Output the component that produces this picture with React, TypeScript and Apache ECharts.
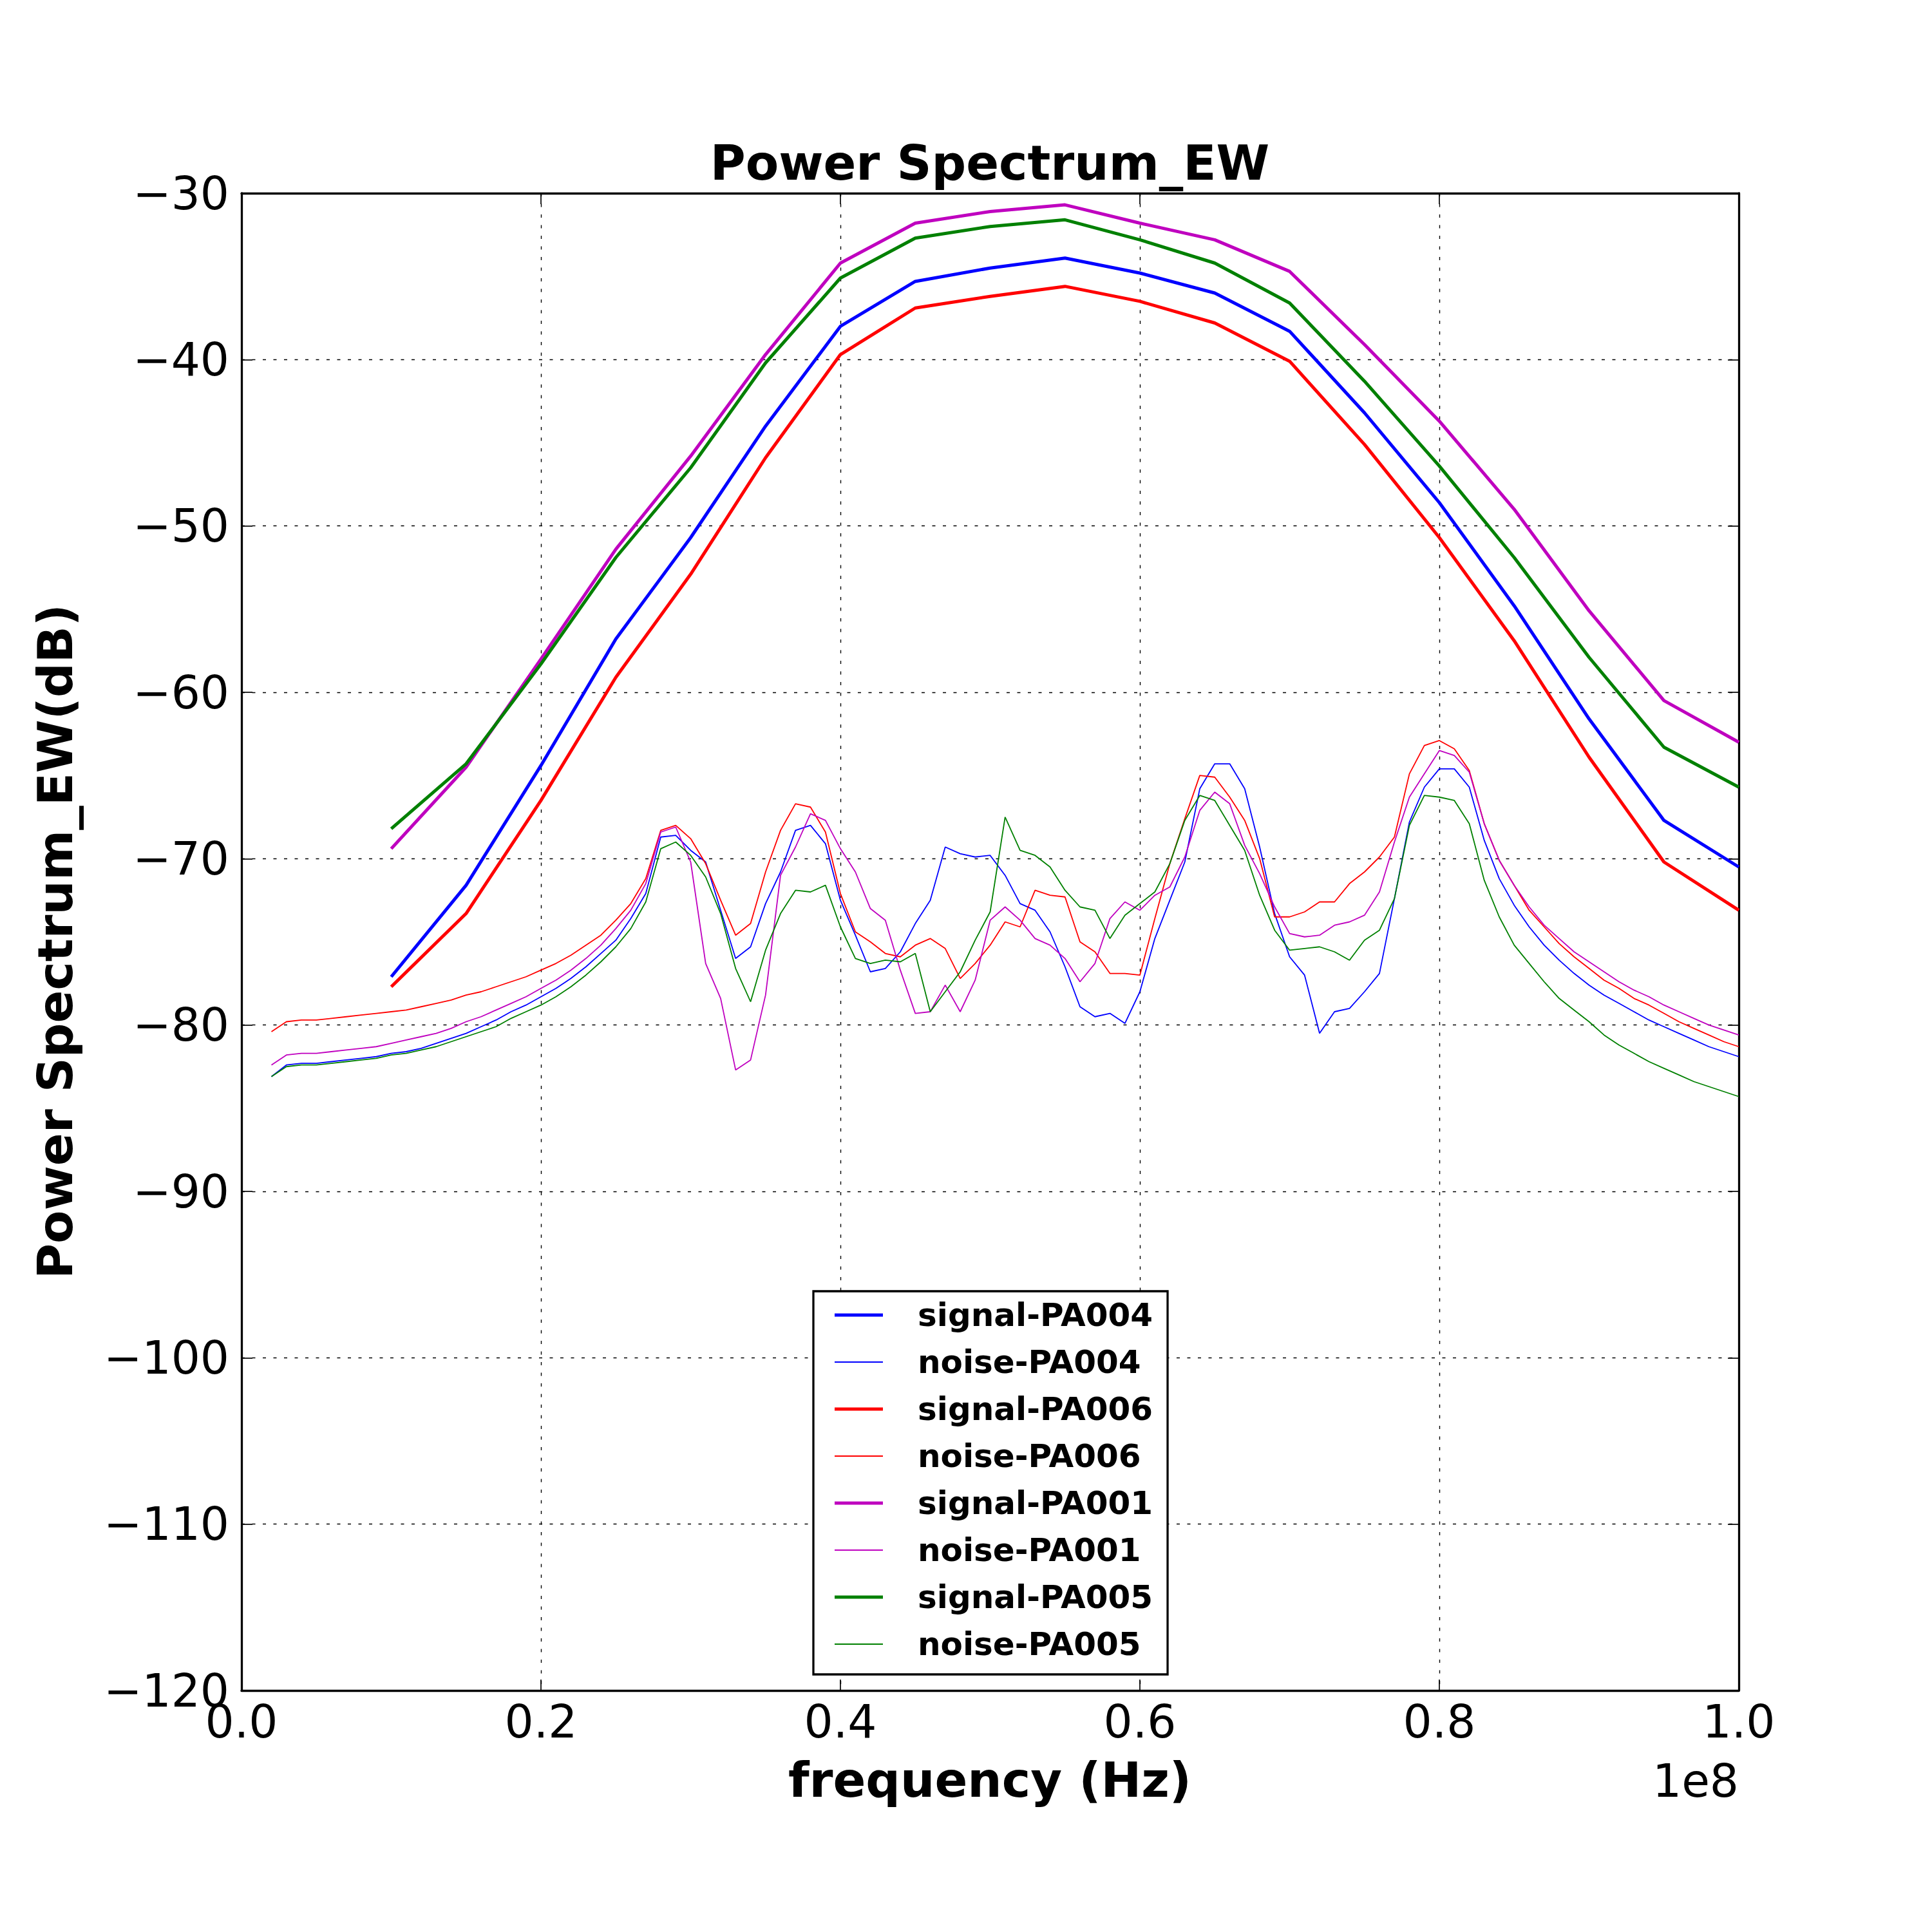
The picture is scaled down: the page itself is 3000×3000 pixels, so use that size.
import React, { useEffect, useRef } from 'react';
import * as echarts from 'echarts';

// frequencies in MHz (axis is in Hz, shown with a 1e8 offset)
const signalFreqMHz = [10, 15, 20, 25, 30, 35, 40, 45, 50, 55, 60, 65, 70, 75, 80, 85, 90, 95, 100];
const noiseFreqMHz = [
  2, 3, 4, 5, 6, 7, 8, 9, 10, 11, 12, 13, 14, 15, 16, 17, 18, 19, 20,
  21, 22, 23, 24, 25, 26, 27, 28, 29, 30, 31, 32, 33, 34, 35, 36, 37, 38, 39, 40,
  41, 42, 43, 44, 45, 46, 47, 48, 49, 50, 51, 52, 53, 54, 55, 56, 57, 58, 59, 60,
  61, 62, 63, 64, 65, 66, 67, 68, 69, 70, 71, 72, 73, 74, 75, 76, 77, 78, 79, 80,
  81, 82, 83, 84, 85, 86, 87, 88, 89, 90, 91, 92, 93, 94, 95, 96, 97, 98, 99, 100,
];

const signalPA004 = [-77.1, -71.6, -64.4, -56.8, -50.7, -44.0, -38.0, -35.3, -34.5, -33.9, -34.8, -36.0, -38.3, -43.2, -48.6, -54.8, -61.6, -67.7, -70.5];
const signalPA006 = [-77.7, -73.3, -66.5, -59.1, -52.9, -45.9, -39.7, -36.9, -36.2, -35.6, -36.5, -37.8, -40.1, -45.1, -50.7, -56.9, -63.9, -70.2, -73.1];
const signalPA001 = [-69.4, -64.5, -58.0, -51.4, -45.8, -39.7, -34.2, -31.8, -31.1, -30.7, -31.8, -32.8, -34.7, -39.1, -43.7, -49.0, -55.1, -60.5, -63.0];
const signalPA005 = [-68.2, -64.3, -58.3, -51.9, -46.5, -40.2, -35.1, -32.7, -32.0, -31.6, -32.8, -34.2, -36.6, -41.3, -46.4, -51.9, -57.9, -63.3, -65.7];

const noisePA004 = [
  -83.1, -82.4, -82.3, -82.3, -82.2, -82.1, -82.0, -81.9, -81.7, -81.6, -81.4, -81.1, -80.8, -80.5, -80.1, -79.7, -79.2, -78.8, -78.3,
  -77.8, -77.2, -76.5, -75.7, -74.9, -73.6, -72.1, -68.7, -68.6, -69.5, -70.2, -73.1, -76.0, -75.3, -72.7, -70.8, -68.3, -68.0, -69.1, -72.5,
  -74.6, -76.8, -76.6, -75.6, -73.9, -72.5, -69.3, -69.7, -69.9, -69.8, -71.0, -72.7, -73.1, -74.4, -76.5, -78.9, -79.5, -79.3, -79.9, -78.0,
  -74.8, -72.5, -70.2, -65.8, -64.3, -64.3, -65.8, -69.3, -73.3, -75.9, -77.0, -80.5, -79.2, -79.0, -78.0, -76.9, -72.4, -67.8, -65.7, -64.6,
  -64.6, -65.7, -68.9, -71.2, -72.8, -74.1, -75.2, -76.1, -76.9, -77.6, -78.2, -78.7, -79.2, -79.7, -80.1, -80.5, -80.9, -81.3, -81.6, -81.9,
];
const noisePA006 = [
  -80.4, -79.8, -79.7, -79.7, -79.6, -79.5, -79.4, -79.3, -79.2, -79.1, -78.9, -78.7, -78.5, -78.2, -78.0, -77.7, -77.4, -77.1, -76.7,
  -76.3, -75.8, -75.2, -74.6, -73.7, -72.7, -71.2, -68.3, -68.0, -68.8, -70.3, -72.5, -74.6, -73.9, -70.8, -68.3, -66.7, -66.9, -68.4, -72.1,
  -74.4, -75.0, -75.7, -75.9, -75.2, -74.8, -75.4, -77.2, -76.3, -75.2, -73.8, -74.1, -71.9, -72.2, -72.3, -75.0, -75.6, -76.9, -76.9, -77.0,
  -73.6, -70.3, -67.6, -65.0, -65.1, -66.3, -67.7, -70.0, -73.5, -73.5, -73.2, -72.6, -72.6, -71.5, -70.8, -69.9, -68.7, -64.9, -63.2, -62.9,
  -63.4, -64.7, -67.9, -70.1, -71.6, -73.1, -74.1, -75.1, -75.9, -76.6, -77.3, -77.8, -78.4, -78.8, -79.3, -79.8, -80.2, -80.6, -81.0, -81.3,
];
const noisePA001 = [
  -82.4, -81.8, -81.7, -81.7, -81.6, -81.5, -81.4, -81.3, -81.1, -80.9, -80.7, -80.5, -80.2, -79.8, -79.5, -79.1, -78.7, -78.3, -77.8,
  -77.3, -76.7, -76.0, -75.2, -74.2, -73.1, -71.5, -68.4, -68.1, -70.2, -76.3, -78.4, -82.7, -82.1, -78.2, -71.0, -69.3, -67.3, -67.7, -69.4,
  -70.8, -73.0, -73.7, -76.7, -79.3, -79.2, -77.6, -79.2, -77.3, -73.7, -72.9, -73.7, -74.8, -75.2, -76.0, -77.4, -76.3, -73.6, -72.6, -73.1,
  -72.2, -71.7, -69.9, -67.1, -66.0, -66.7, -69.2, -70.9, -72.9, -74.5, -74.7, -74.6, -74.0, -73.8, -73.4, -72.0, -69.0, -66.3, -64.9, -63.5,
  -63.8, -64.8, -67.9, -70.1, -71.6, -72.9, -74.0, -74.8, -75.6, -76.2, -76.8, -77.4, -77.9, -78.3, -78.8, -79.2, -79.6, -80.0, -80.3, -80.6,
];
const noisePA005 = [
  -83.1, -82.5, -82.4, -82.4, -82.3, -82.2, -82.1, -82.0, -81.8, -81.7, -81.5, -81.3, -81.0, -80.7, -80.4, -80.1, -79.6, -79.2, -78.8,
  -78.3, -77.7, -77.0, -76.2, -75.3, -74.2, -72.6, -69.4, -69.0, -69.8, -71.1, -73.3, -76.6, -78.6, -75.5, -73.3, -71.9, -72.0, -71.6, -74.1,
  -76.0, -76.3, -76.1, -76.2, -75.7, -79.2, -78.0, -76.8, -74.9, -73.2, -67.5, -69.5, -69.8, -70.5, -71.9, -72.9, -73.1, -74.8, -73.4, -72.7,
  -72.0, -70.3, -67.7, -66.2, -66.5, -68.0, -69.5, -72.2, -74.3, -75.5, -75.4, -75.3, -75.6, -76.1, -74.9, -74.3, -72.4, -68.0, -66.2, -66.3,
  -66.5, -67.9, -71.3, -73.5, -75.2, -76.3, -77.4, -78.4, -79.1, -79.8, -80.6, -81.2, -81.7, -82.2, -82.6, -83.0, -83.4, -83.7, -84.0, -84.3,
];

const seriesNames = [
  'signal-PA004', 'noise-PA004', 'signal-PA006', 'noise-PA006',
  'signal-PA001', 'noise-PA001', 'signal-PA005', 'noise-PA005',
];
const seriesColors = ['#0000ff', '#0000ff', '#ff0000', '#ff0000', '#bf00bf', '#bf00bf', '#008000', '#008000'];
const seriesValues = [signalPA004, noisePA004, signalPA006, noisePA006, signalPA001, noisePA001, signalPA005, noisePA005];

const FONT = '"DejaVu Sans", "Liberation Sans", sans-serif';
const THICK = 5;
const THIN = 1.8;

const fmtY = (v: number) => (v < 0 ? '\u2212' + Math.abs(v) : String(v));
const fmtX = (v: number) => (v / 1e8).toFixed(1);

export default function App() {
  const ref = useRef<HTMLDivElement>(null);

  useEffect(() => {
    if (!ref.current) return;
    const chart = echarts.init(ref.current, null, { renderer: 'svg', width: 3000, height: 3000 });

    const series = seriesNames.map((name, i) => {
      const isSignal = i % 2 === 0;
      const freqs = isSignal ? signalFreqMHz : noiseFreqMHz;
      const vals = seriesValues[i];
      return {
        name,
        type: 'line',
        xAxisIndex: 0,
        yAxisIndex: 0,
        symbol: 'none',
        showSymbol: false,
        clip: true,
        z: 2 + i * 0.01,
        color: seriesColors[i],
        lineStyle: { color: seriesColors[i], width: isSignal ? THICK : THIN },
        emphasis: { disabled: true },
        data: freqs.map((f, k) => [f * 1e6, vals[k]]),
      };
    });

    const axisLine = { show: true, onZero: false, lineStyle: { color: '#000', width: 3.3 } };
    const axisTick = { show: true, inside: true, length: 17, lineStyle: { color: '#000', width: 1.7 } };
    const gridLine = { show: true, lineStyle: { color: '#000', width: 1.4, type: [5, 11.5] } };

    const thickIcon = 'path://M0,0H75V5H0Z';
    const thinIcon = 'path://M0,0H75V1.8H0Z';

    chart.setOption({
      animation: false,
      backgroundColor: '#ffffff',
      grid: { left: 375, top: 300, width: 2325, height: 2325, containLabel: false },
      xAxis: [
        {
          type: 'value', position: 'bottom', min: 0, max: 1e8, interval: 2e7,
          axisLine, axisTick,
          axisLabel: { show: true, margin: 13, formatter: fmtX, fontSize: 71, fontFamily: FONT, color: '#000' },
          splitLine: gridLine,
        },
        {
          type: 'value', position: 'top', min: 0, max: 1e8, interval: 2e7,
          axisLine, axisTick,
          axisLabel: { show: false },
          splitLine: { show: false },
        },
      ],
      yAxis: [
        {
          type: 'value', position: 'left', min: -120, max: -30, interval: 10,
          axisLine, axisTick,
          axisLabel: { show: true, margin: 19, formatter: fmtY, fontSize: 71, fontFamily: FONT, color: '#000' },
          splitLine: gridLine,
        },
        {
          type: 'value', position: 'right', min: -120, max: -30, interval: 10,
          axisLine, axisTick,
          axisLabel: { show: false },
          splitLine: { show: false },
        },
      ],
      legend: {
        show: true,
        orient: 'vertical',
        left: 1263,
        top: 2005,
        itemWidth: 75,
        itemHeight: 50,
        itemGap: 23,
        padding: [12, 23, 22, 33],
        borderColor: '#000',
        borderWidth: 3.3,
        borderRadius: 0,
        backgroundColor: '#ffffff',
        selectedMode: false,
        symbolKeepAspect: true,
        itemStyle: { borderWidth: 0 },
        textStyle: { fontFamily: FONT, fontWeight: 'bold', fontSize: 50, color: '#000', padding: [0, 0, 0, 49] },
        data: seriesNames.map((n, i) => ({ name: n, icon: i % 2 === 0 ? thickIcon : thinIcon })),
      },
      graphic: [
        {
          type: 'text', x: 1537, y: 253, silent: true,
          style: { text: 'Power Spectrum_EW', fontSize: 75, fontWeight: 'bold', fontFamily: FONT, fill: '#000', align: 'center', verticalAlign: 'middle' },
        },
        {
          type: 'text', x: 1537, y: 2764, silent: true,
          style: { text: 'frequency (Hz)', fontSize: 75, fontWeight: 'bold', fontFamily: FONT, fill: '#000', align: 'center', verticalAlign: 'middle' },
        },
        {
          type: 'text', x: 86, y: 1462, rotation: Math.PI / 2, silent: true,
          style: { text: 'Power Spectrum_EW(dB)', fontSize: 75, fontWeight: 'bold', fontFamily: FONT, fill: '#000', align: 'center', verticalAlign: 'middle' },
        },
        {
          type: 'text', x: 2700, y: 2765, silent: true,
          style: { text: '1e8', fontSize: 71, fontFamily: FONT, fill: '#000', align: 'right', verticalAlign: 'middle' },
        },
      ],
      series,
    });

    return () => chart.dispose();
  }, []);

  return (
    <div
      ref={ref}
      style={{ position: 'absolute', left: 0, top: 0, width: 3000, height: 3000, background: '#ffffff' }}
    />
  );
}
